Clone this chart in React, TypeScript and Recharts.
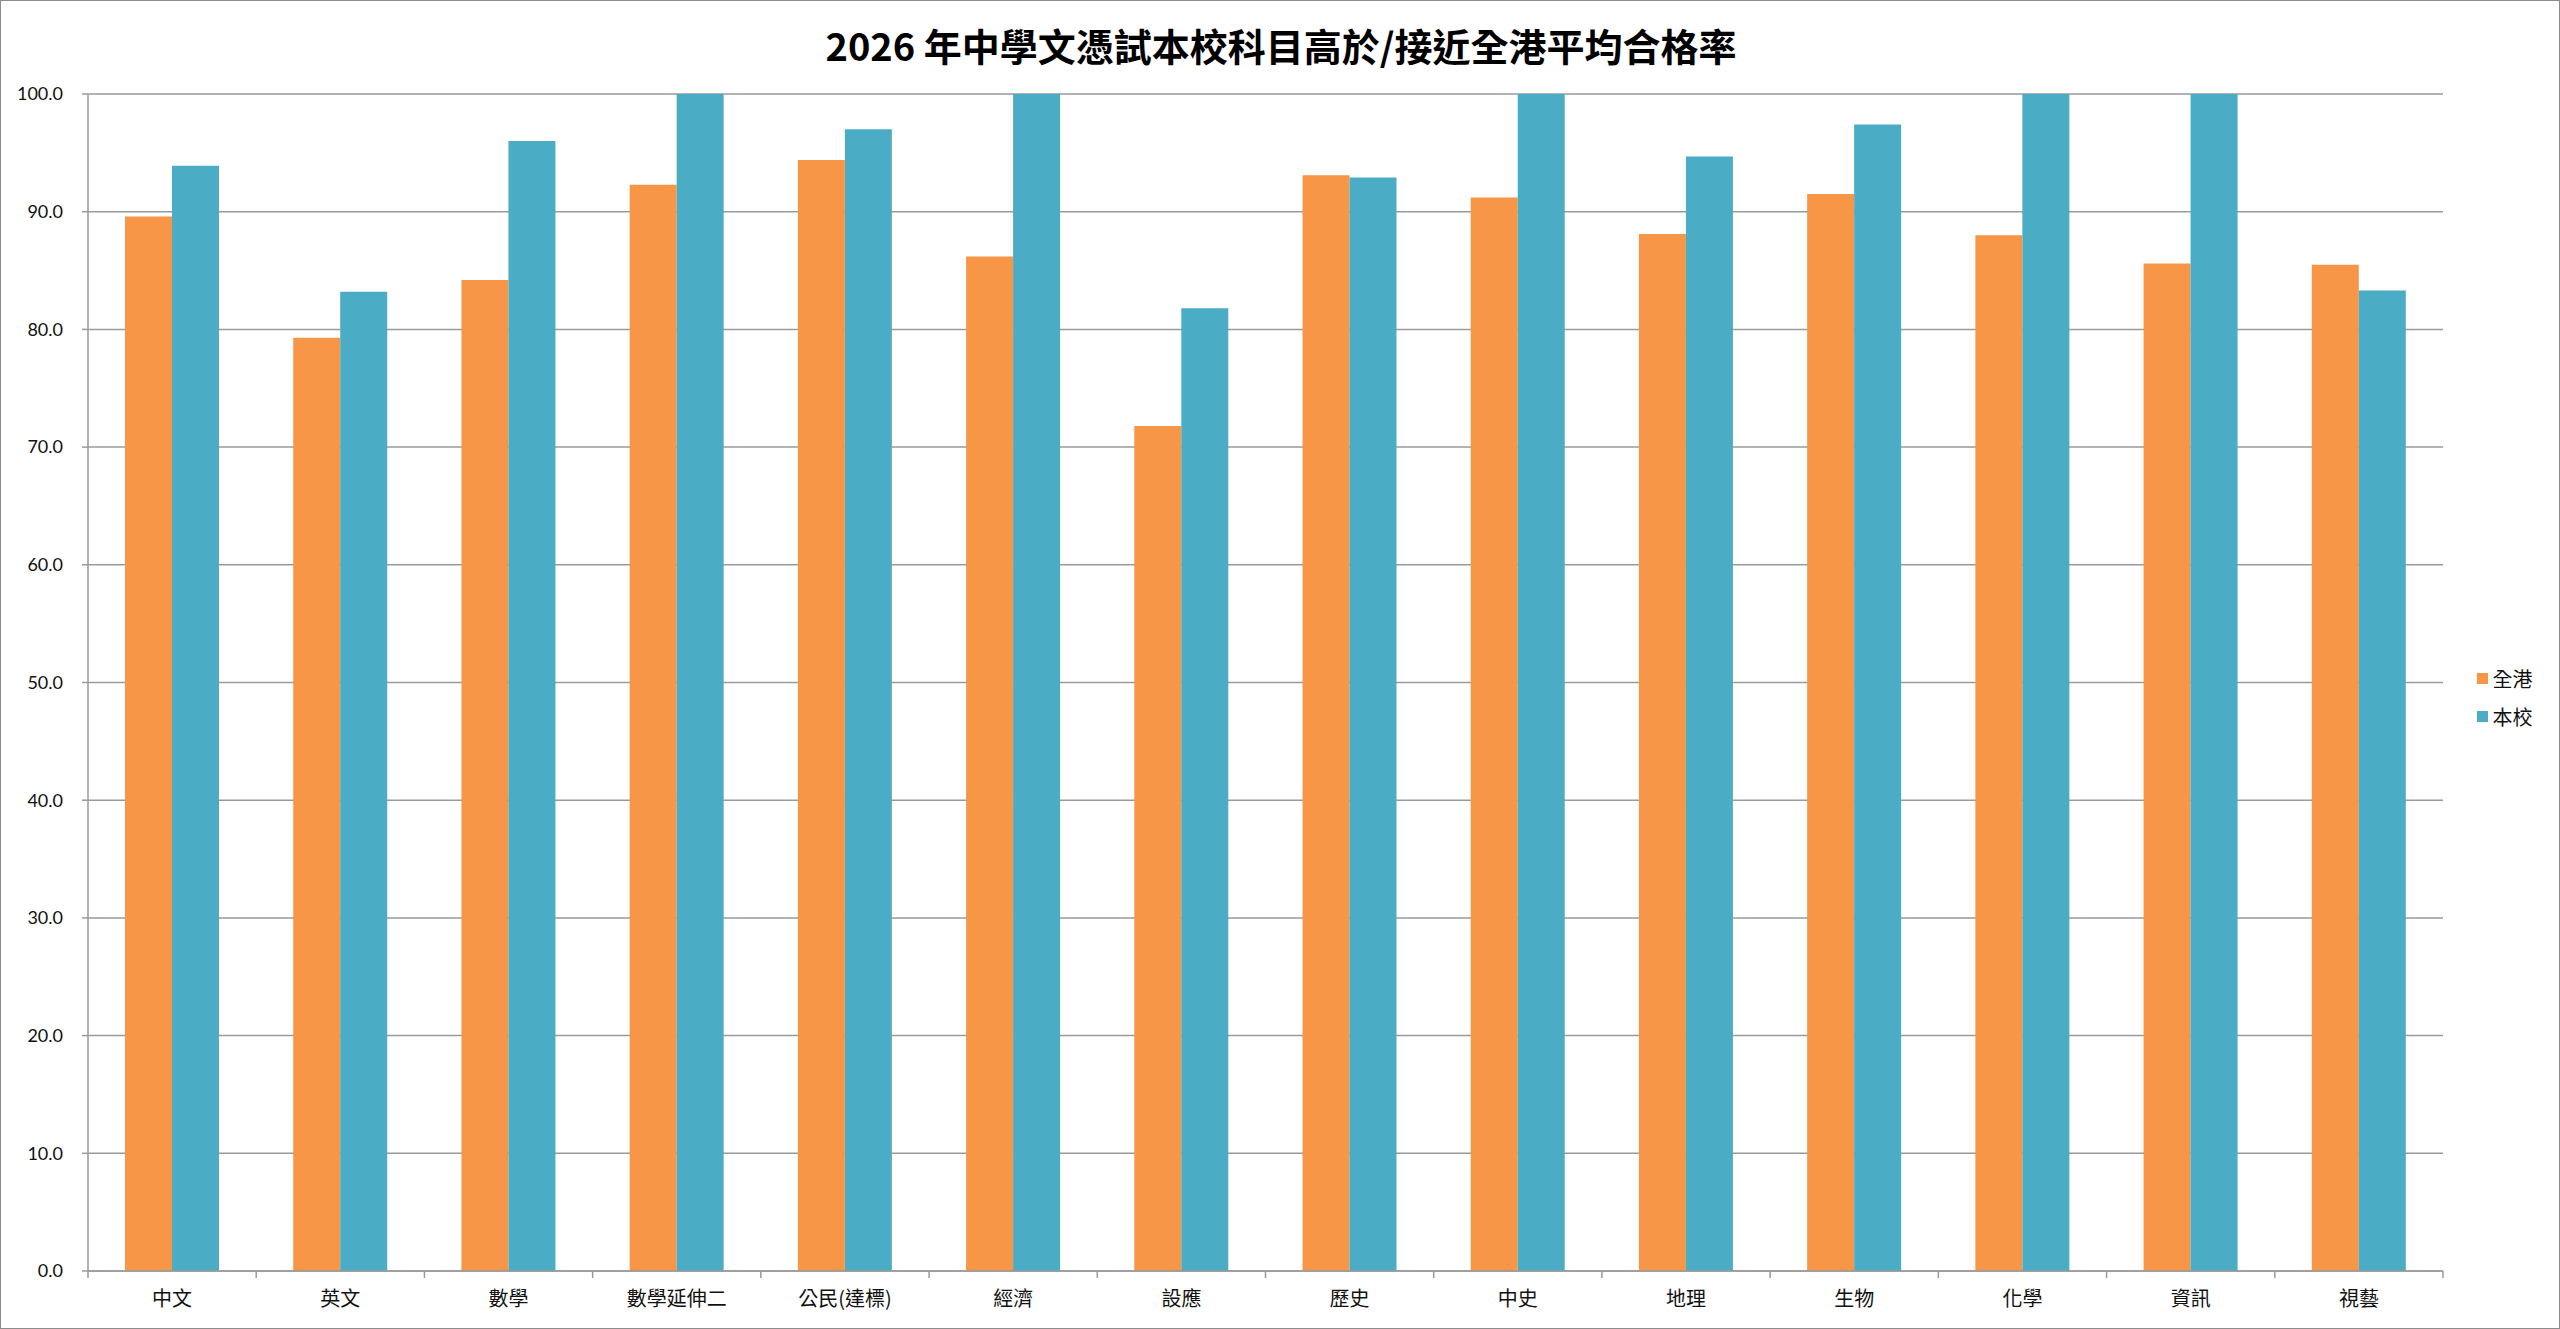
import React from "react";
import {
  BarChart,
  Bar,
  XAxis,
  YAxis,
  CartesianGrid,
  Legend,
} from "recharts";

const subjects = [
  "中文",
  "英文",
  "數學",
  "數學延伸二",
  "公民(達標)",
  "經濟",
  "設應",
  "歷史",
  "中史",
  "地理",
  "生物",
  "化學",
  "資訊",
  "視藝",
];
const hkRates = [89.6, 79.3, 84.2, 92.3, 94.4, 86.2, 71.8, 93.1, 91.2, 88.1, 91.5, 88.0, 85.6, 85.5];
const schoolRates = [93.9, 83.2, 96.0, 100, 97.0, 100, 81.8, 92.9, 100, 94.7, 97.4, 100, 100, 83.3];
const yTicks = [0, 10, 20, 30, 40, 50, 60, 70, 80, 90, 100];

const data = subjects.map((name, i) => ({
  name,
  全港: hkRates[i],
  本校: schoolRates[i],
}));

const W = 2560;
const H = 1329;
const ORANGE = "#F79646";
const BLUE = "#4BACC6";
const GRID = "#9a9a9a";
const CJK = '"Noto Sans CJK TC", "Noto Sans", sans-serif';

function SubjectTick(props: any) {
  const { x, y, payload, index } = props;
  const half = payload && payload.offset ? payload.offset : (2443 - 88) / subjects.length / 2;
  const axisY = y - 8;
  return (
    <g>
      <line x1={x - half} x2={x - half} y1={axisY} y2={axisY + 7} stroke={GRID} strokeWidth={1.5} />
      {index === subjects.length - 1 && (
        <line x1={x + half} x2={x + half} y1={axisY} y2={axisY + 7} stroke={GRID} strokeWidth={1.5} />
      )}
      <text
        x={x}
        y={axisY + 28}
        dy="0.35em"
        textAnchor="middle"
        fill="#111"
        fontSize={20}
        fontFamily={CJK}
      >
        {payload.value}
      </text>
    </g>
  );
}

function LegendBox() {
  const items = [
    { label: "全港", color: ORANGE },
    { label: "本校", color: BLUE },
  ];
  return (
    <div style={{ paddingLeft: 7 }}>
      {items.map((it) => (
        <div key={it.label} style={{ display: "flex", alignItems: "center", height: 38 }}>
          <span style={{ width: 11, height: 11, background: it.color, display: "inline-block" }} />
          <span style={{ marginLeft: 5, fontSize: 20, fontFamily: CJK, color: "#111" }}>{it.label}</span>
        </div>
      ))}
    </div>
  );
}

export default function App() {
  return (
    <div
      style={{
        position: "relative",
        width: W,
        height: H,
        boxSizing: "border-box",
        border: "1.5px solid #8c8c8c",
        background: "#fff",
        overflow: "hidden",
      }}
    >
      <style>{`body{margin:0;overflow:hidden;}`}</style>
      <div
        style={{
          position: "absolute",
          top: 0,
          left: 0,
          width: W,
          height: 86,
          display: "flex",
          alignItems: "center",
          justifyContent: "center",
          fontFamily: CJK,
          fontWeight: "bold",
          fontSize: 38,
          color: "#000",
        }}
      >
        2026 年中學文憑試本校科目高於/接近全港平均合格率
      </div>
      <div style={{ position: "absolute", top: -1.5, left: -1.5 }}>
        <BarChart
          width={W}
          height={H}
          data={data}
          margin={{ top: 94, right: 27, bottom: 8, left: 0 }}
          barCategoryGap="22%"
          barGap={0}
        >
          <CartesianGrid vertical={false} stroke={GRID} strokeWidth={1.5} />
          <XAxis
            dataKey="name"
            interval={0}
            height={50}
            axisLine={{ stroke: GRID, strokeWidth: 1.5 }}
            tickLine={false}
            tick={<SubjectTick />}
          />
          <YAxis
            domain={[0, 100]}
            ticks={yTicks}
            width={88}
            interval={0}
            tickFormatter={(v: number) => v.toFixed(1)}
            axisLine={{ stroke: GRID, strokeWidth: 1.5 }}
            tickLine={{ stroke: GRID, strokeWidth: 1.5 }}
            tickSize={6}
            tickMargin={19}
            tick={{ fill: "#111", fontSize: 18, fontFamily: "Lato, sans-serif" }}
          />
          <Legend
            layout="vertical"
            align="right"
            verticalAlign="middle"
            content={<LegendBox />}
            wrapperStyle={{ left: 2470, top: 660, width: 90 }}
          />
          <Bar dataKey="全港" fill={ORANGE} isAnimationActive={false} />
          <Bar dataKey="本校" fill={BLUE} isAnimationActive={false} />
        </BarChart>
      </div>
    </div>
  );
}
